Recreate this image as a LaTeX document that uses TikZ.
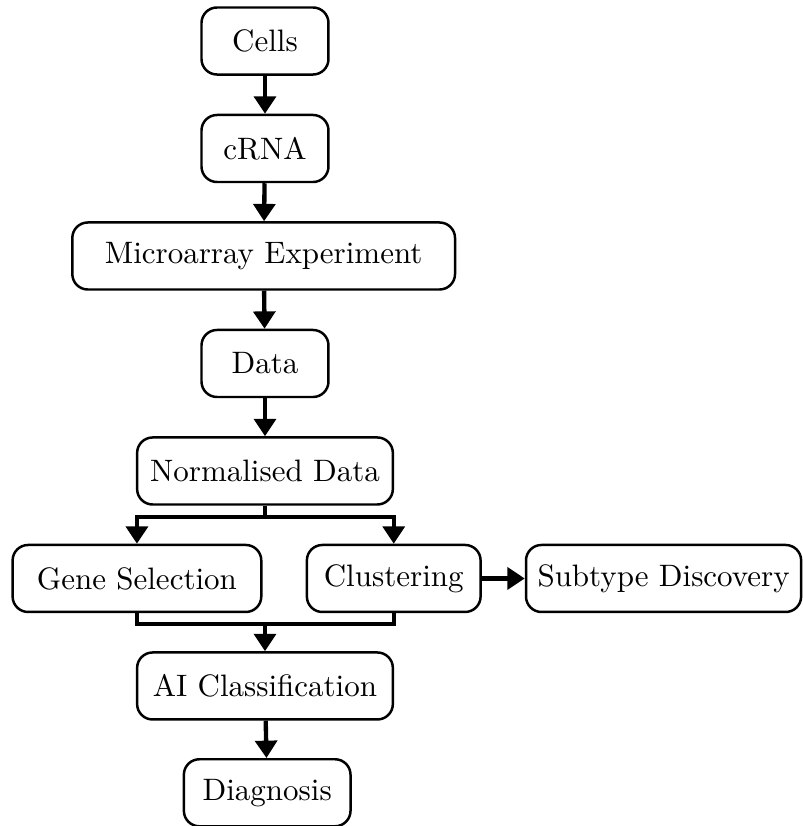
\documentclass[tikz,border=0pt]{standalone}
\usepackage{tikz}
\usetikzlibrary{positioning}
\usetikzlibrary{arrows.meta}

\tikzset{
  stage/.style={draw, black, thick, rounded corners=5pt, minimum height=0.76cm, inner sep=2pt},
  flow/.style={black, line width=1.4pt, -{Triangle[width=7pt,length=5.6pt]}},
  link/.style={black, line width=1.4pt}
}

\begin{document}
\begin{tikzpicture}
      \useasboundingbox (0,0) rectangle (9.095,-9.367);

      % main column
      \node[stage, minimum width=1.44cm] (Cells) at (3.005,-0.465) {Cells};
      \node[stage, minimum width=1.44cm] (CRNA) at (3.005,-1.684) {cRNA};
      \node[stage, minimum width=4.34cm] (Micro) at (2.99,-2.903) {Microarray Experiment};
      \node[stage, minimum width=1.44cm] (Data) at (3.005,-4.122) {Data};
      \node[stage, minimum width=2.90cm] (Norm) at (3.005,-5.341) {Normalised Data};

      % branches
      \node[stage, minimum width=2.82cm] (Gene) at (1.553,-6.560) {Gene Selection};
      \node[stage, minimum width=1.97cm] (Clust) at (4.465,-6.560) {Clustering};
      \node[stage, minimum width=3.12cm] (Subtype) at (7.525,-6.560) {Subtype Discovery};

      \node[stage, minimum width=2.90cm] (AIClass) at (3.005,-7.779) {AI Classification};
      \node[stage, minimum width=1.89cm] (Diag) at (3.03,-8.990) {Diagnosis};

      \coordinate (Split) at (3.005,-5.863);
      \coordinate (Merge) at (3.005,-7.076);

      \draw[flow] (Cells) -- (CRNA);
      \draw[flow] (CRNA) -- (Micro);
      \draw[flow] (Micro) -- (Data);
      \draw[flow] (Data) -- (Norm);

      \draw[link] (Norm.south) -- (Split);
      \draw[flow] (Split) -| (Gene.north);
      \draw[flow] (Split) -| (Clust.north);
      \draw[flow] (Clust) -- (Subtype);

      \draw[link] (Gene.south) |- (Merge) -| (Clust.south);
      \draw[flow] (Merge) -- (AIClass);
      \draw[flow] (AIClass) -- (Diag);
    \end{tikzpicture}
\end{document}
